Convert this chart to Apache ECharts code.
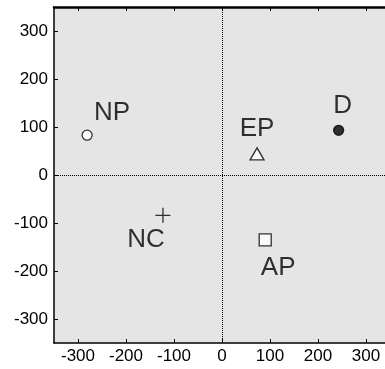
<!DOCTYPE html>
<html>
<head>
<meta charset="utf-8">
<script src="https://cdn.jsdelivr.net/npm/echarts@6/dist/echarts.min.js"></script>
<style>
  html, body { margin: 0; padding: 0; background: #fff; }
  #chart { width: 385px; height: 369px; }
</style>
</head>
<body>
<div id="chart"></div>
<script>
const names = ['NP', 'D', 'EP', 'NC', 'AP'];
const xValues = [-281, 243, 73, -123, 90];
const yValues = [83, 93, 44, -84, -135];
const tickValues = [-300, -200, -100, 0, 100, 200, 300];

// marker look + label placement per point
const markers = {
  NP: { symbol: 'circle', size: 10, fill: '#fff', offset: [25, -22] },
  D: { symbol: 'circle', size: 10, fill: '#000', offset: [4, -25] },
  EP: { symbol: 'triangle', size: [14, 12], fill: '#fff', offset: [0, -25] },
  NC: { symbol: 'path://M10,0V20M0,10H20', size: 15, fill: 'transparent', offset: [-17, 25] },
  AP: { symbol: 'rect', size: 12, fill: '#fff', offset: [13, 28] }
};

const font = 'Liberation Sans, Arial, sans-serif';
const chart = echarts.init(document.getElementById('chart'), null, { renderer: 'canvas' });

const points = names.map((n, i) => {
  const m = markers[n];
  return {
    name: n,
    value: [xValues[i], yValues[i]],
    symbol: m.symbol,
    symbolSize: m.size,
    itemStyle: { color: m.fill, borderColor: '#000', borderWidth: 1.3 },
    label: {
      show: true,
      formatter: n,
      position: 'inside',
      offset: m.offset,
      color: '#000',
      fontSize: 26,
      fontFamily: font
    }
  };
});

const axisCommon = {
  type: 'value',
  min: -350,
  max: 350,
  splitLine: { show: false },
  axisLine: { onZero: false, lineStyle: { color: '#000', width: 1.5 } },
  axisTick: { inside: true, length: 4, customValues: tickValues, lineStyle: { color: '#000' } },
  axisLabel: { customValues: tickValues, color: '#000', fontSize: 17, fontFamily: font }
};

chart.setOption({
  animation: false,
  grid: {
    left: 54, top: 7, width: 336, height: 336,
    outerBoundsMode: 'none',
    containLabel: false,
    show: true, backgroundColor: '#e5e5e5', borderWidth: 0
  },
  xAxis: [
    Object.assign({}, axisCommon, { position: 'bottom', axisLabel: Object.assign({}, axisCommon.axisLabel, { margin: 5 }) }),
    Object.assign({}, axisCommon, { position: 'top', axisLabel: { show: false }, axisLine: { onZero: false, lineStyle: { color: '#000', width: 2.5 } } })
  ],
  yAxis: [
    Object.assign({}, axisCommon, { position: 'left', axisLabel: Object.assign({}, axisCommon.axisLabel, { margin: 6 }) }),
    Object.assign({}, axisCommon, { position: 'right', axisLabel: { show: false } })
  ],
  series: [{
    type: 'scatter',
    xAxisIndex: 0,
    yAxisIndex: 0,
    data: points,
    markLine: {
      silent: true,
      symbol: 'none',
      label: { show: false },
      lineStyle: { type: 'dotted', color: '#000', width: 1 },
      data: [{ xAxis: 0 }, { yAxis: 0 }]
    }
  }]
});
</script>
</body>
</html>
